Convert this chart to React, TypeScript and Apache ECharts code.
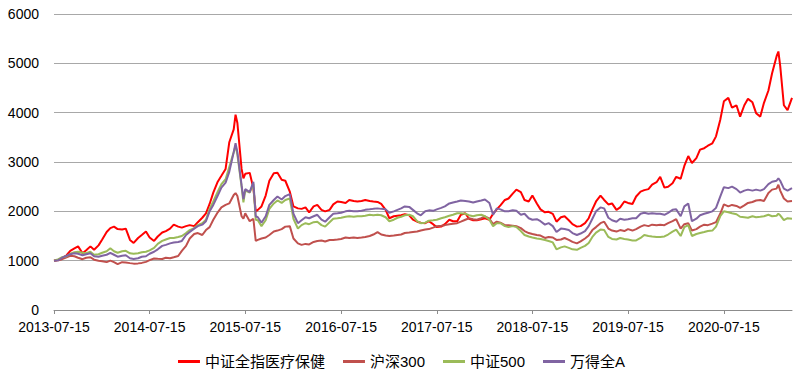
import React, { useEffect, useRef } from "react";
import * as echarts from "echarts";

const dates = [
  "2013-07-15","2013-08-01","2013-08-15","2013-09-01","2013-09-15","2013-10-01","2013-10-15","2013-11-01","2013-11-15","2013-12-01","2013-12-15",
  "2014-01-01","2014-01-15","2014-02-01","2014-02-15","2014-03-01","2014-03-15","2014-04-01","2014-04-15","2014-05-01","2014-05-15","2014-06-01","2014-06-15","2014-07-01","2014-07-15","2014-08-01","2014-08-15","2014-09-01","2014-09-15","2014-10-01","2014-10-15","2014-11-01","2014-11-15","2014-12-01","2014-12-15",
  "2015-01-01","2015-01-15","2015-02-01","2015-02-15","2015-03-01","2015-03-15","2015-04-01","2015-04-15","2015-05-01","2015-05-15","2015-06-01","2015-06-08","2015-06-15","2015-07-01","2015-07-08","2015-07-15","2015-08-01","2015-08-15","2015-08-24","2015-09-01","2015-09-15","2015-10-01","2015-10-15","2015-11-01","2015-11-15","2015-12-01","2015-12-15",
  "2016-01-01","2016-01-15","2016-02-01","2016-02-15","2016-03-01","2016-03-15","2016-04-01","2016-04-15","2016-05-01","2016-05-15","2016-06-01","2016-06-15","2016-07-01","2016-07-15","2016-08-01","2016-08-15","2016-09-01","2016-09-15","2016-10-01","2016-10-15","2016-11-01","2016-11-15","2016-12-01","2016-12-15",
  "2017-01-01","2017-01-15","2017-02-01","2017-02-15","2017-03-01","2017-03-15","2017-04-01","2017-04-15","2017-05-01","2017-05-15","2017-06-01","2017-06-15","2017-07-01","2017-07-15","2017-08-01","2017-08-15","2017-09-01","2017-09-15","2017-10-01","2017-10-15","2017-11-01","2017-11-15","2017-12-01","2017-12-15",
  "2018-01-01","2018-01-15","2018-02-01","2018-02-15","2018-03-01","2018-03-15","2018-04-01","2018-04-15","2018-05-01","2018-05-15","2018-06-01","2018-06-15","2018-07-01","2018-07-15","2018-08-01","2018-08-15","2018-09-01","2018-09-15","2018-10-01","2018-10-15","2018-11-01","2018-11-15","2018-12-01","2018-12-15",
  "2019-01-01","2019-01-15","2019-02-01","2019-02-15","2019-03-01","2019-03-15","2019-04-01","2019-04-15","2019-05-01","2019-05-15","2019-06-01","2019-06-15","2019-07-01","2019-07-15","2019-08-01","2019-08-15","2019-09-01","2019-09-15","2019-10-01","2019-10-15","2019-11-01","2019-11-15","2019-12-01","2019-12-15",
  "2020-01-01","2020-01-15","2020-02-01","2020-02-15","2020-03-01","2020-03-15","2020-04-01","2020-04-15","2020-05-01","2020-05-15","2020-06-01","2020-06-15","2020-07-01","2020-07-15","2020-08-01","2020-08-15","2020-09-01","2020-09-15","2020-10-01","2020-10-15","2020-11-01","2020-11-15","2020-12-01","2020-12-15",
  "2021-01-01","2021-01-15","2021-02-01","2021-02-08","2021-02-15","2021-03-01","2021-03-15","2021-04-01",
];

const tickLabels = ["2013-07-15","2014-07-15","2015-07-15","2016-07-15","2017-07-15","2018-07-15","2019-07-15","2020-07-15"];

const seriesNames = ["中证全指医疗保健", "沪深300", "中证500", "万得全A"];
const seriesColors = ["#FF0000", "#C0504D", "#9BBB59", "#8064A2"];

const healthcare = [
  1000,1020,1050,1110,1200,1250,1290,1150,1210,1290,1220,
  1310,1430,1580,1660,1690,1640,1630,1650,1420,1360,1460,1520,1590,1470,1400,1490,1570,1600,1650,1730,1690,1670,1700,1720,
  1700,1780,1870,1960,2150,2380,2600,2720,2860,3400,3660,3960,3790,2860,2670,2760,2780,2470,2000,2030,2100,2320,2620,2770,2780,2640,2620,
  2400,2100,2060,2050,2080,1980,2100,2130,2030,2000,2030,2140,2200,2190,2170,2230,2210,2200,2210,2230,2210,2200,2190,2150,
  2030,1860,1900,1910,1920,1940,1920,1830,1790,1770,1760,1800,1740,1680,1690,1740,1830,1800,1800,1930,1960,1850,1820,1820,
  1840,1860,1830,1950,2040,2120,2230,2260,2360,2440,2390,2230,2200,2320,2160,2040,1980,1990,1950,1790,1880,1900,1820,1740,
  1690,1700,1760,1860,2040,2200,2320,2230,2140,2160,2030,2080,2200,2170,2150,2300,2400,2430,2450,2540,2590,2700,2480,2500,
  2570,2700,2660,2920,3120,2980,3080,3250,3280,3330,3380,3520,3850,4230,4300,4100,4150,3920,4150,4280,4210,3990,3920,4200,
  4450,4800,5140,5240,4950,4150,4050,4300,
];

const csi300 = [
  1000,1010,1030,1070,1100,1090,1060,1030,1060,1070,1020,
  1000,990,970,1000,970,930,970,965,950,940,945,955,975,1010,1045,1040,1035,1060,1050,1070,1095,1200,1300,1450,
  1540,1560,1520,1620,1680,1830,1980,2080,2130,2160,2330,2370,2310,1900,1850,1960,1800,1850,1400,1420,1450,1470,1520,1590,1610,1640,1690,
  1700,1450,1350,1320,1340,1330,1380,1400,1410,1390,1420,1420,1430,1440,1470,1460,1470,1460,1470,1480,1500,1530,1580,1530,
  1510,1500,1510,1520,1530,1560,1570,1580,1590,1610,1630,1640,1670,1700,1710,1720,1740,1750,1760,1790,1830,1860,1840,1830,
  1860,1900,1850,1740,1790,1770,1720,1720,1710,1700,1660,1600,1560,1540,1520,1510,1460,1480,1470,1420,1430,1460,1420,1380,
  1350,1390,1450,1510,1620,1680,1760,1790,1650,1610,1590,1620,1600,1640,1610,1640,1690,1720,1700,1730,1720,1730,1720,1760,
  1800,1840,1650,1740,1760,1610,1640,1690,1730,1720,1750,1780,1950,2140,2100,2130,2110,2070,2120,2170,2190,2220,2230,2210,
  2370,2440,2460,2540,2420,2260,2200,2210,
];

const csi500 = [
  1000,1030,1070,1090,1140,1170,1180,1160,1150,1180,1120,
  1130,1160,1190,1250,1190,1160,1190,1200,1150,1140,1150,1170,1180,1210,1260,1340,1400,1430,1460,1460,1480,1500,1560,1620,
  1660,1720,1760,1830,2050,2200,2400,2550,2650,2900,3200,3330,3150,2500,2180,2420,2380,2560,1830,1820,1700,1820,2050,2160,2220,2170,2230,
  2260,1850,1650,1720,1760,1740,1780,1790,1720,1690,1780,1850,1860,1870,1890,1900,1890,1900,1900,1910,1930,1920,1930,1920,
  1880,1800,1830,1870,1890,1920,1930,1900,1800,1760,1770,1810,1820,1830,1860,1880,1910,1930,1960,1960,1950,1920,1900,1920,
  1930,1900,1830,1700,1760,1760,1700,1680,1700,1680,1600,1520,1490,1470,1450,1440,1420,1400,1370,1230,1270,1290,1260,1230,
  1220,1260,1300,1360,1480,1570,1630,1620,1480,1440,1430,1460,1440,1430,1410,1410,1460,1520,1500,1490,1480,1480,1490,1530,
  1590,1630,1500,1680,1720,1500,1540,1560,1580,1600,1610,1690,1900,2000,1980,1960,1940,1890,1880,1870,1900,1880,1890,1900,
  1930,1900,1910,1950,1920,1820,1860,1850,
];

const windA = [
  1000,1010,1060,1100,1130,1150,1140,1110,1130,1150,1090,
  1080,1100,1120,1160,1120,1080,1100,1110,1050,1035,1050,1080,1090,1140,1180,1230,1300,1320,1350,1370,1380,1400,1520,1580,
  1650,1700,1730,1800,2000,2130,2320,2480,2580,2800,3200,3380,3200,2530,2250,2450,2390,2600,1900,1880,1770,1900,2130,2230,2300,2240,2310,
  2350,1950,1760,1820,1880,1860,1900,1930,1830,1790,1880,1950,1960,1970,2000,2010,2000,2000,2010,2030,2040,2050,2060,2050,
  2040,1970,2000,2030,2060,2100,2090,2030,1960,1920,2000,2020,2010,2040,2070,2100,2160,2180,2200,2220,2210,2200,2180,2200,
  2220,2240,2170,1930,2060,2040,2000,2000,2020,2010,1930,1950,1860,1830,1840,1800,1730,1760,1700,1580,1650,1640,1620,1560,
  1520,1550,1600,1700,1850,2000,2080,2060,1870,1820,1790,1850,1830,1840,1860,1860,1950,1970,1950,1960,1950,1950,1930,1970,
  2030,2040,1900,2100,2160,1800,1850,1920,1950,1970,2000,2070,2300,2490,2470,2500,2450,2380,2420,2440,2420,2440,2420,2450,
  2550,2600,2620,2670,2620,2460,2420,2470,
];

const yMin = 0;
const yMax = 6000;
const yInterval = 1000;

const FONT = "'Liberation Sans', Arial, 'Noto Sans CJK SC', sans-serif";

const toTime = (s: string) => new Date(s + "T00:00:00Z").getTime();

export default function App() {
  const ref = useRef<HTMLDivElement>(null);

  useEffect(() => {
    document.body.style.margin = "0";
    if (!ref.current) return;
    const chart = echarts.init(ref.current, null, { renderer: "svg" });
    const tickValues = tickLabels.map(toTime);
    const allValues = [healthcare, csi300, csi500, windA];

    chart.setOption({
      animation: false,
      textStyle: { fontFamily: FONT },
      grid: { left: 54, right: 11, top: 14, bottom: 67 },
      legend: {
        top: 349,
        left: "center",
        icon: "rect",
        itemWidth: 22,
        itemHeight: 3,
        itemGap: 18,
        selectedMode: false,
        textStyle: { fontSize: 15, color: "#000", fontFamily: FONT },
        data: seriesNames,
      },
      xAxis: {
        type: "value",
        min: toTime(dates[0]),
        max: toTime(dates[dates.length - 1]),
        axisLine: { show: true, onZero: false, lineStyle: { color: "#8c8c8c", width: 1 } },
        axisTick: {
          show: true,
          length: 4,
          customValues: tickValues,
          lineStyle: { color: "#8c8c8c" },
        },
        axisLabel: {
          customValues: tickValues,
          fontSize: 14,
          color: "#000",
          margin: 10,
          fontFamily: FONT,
          formatter: (v: number) => {
            let best = 0;
            for (let i = 1; i < tickValues.length; i++) {
              if (Math.abs(tickValues[i] - v) < Math.abs(tickValues[best] - v)) best = i;
            }
            return tickLabels[best];
          },
        },
        splitLine: { show: false },
      },
      yAxis: {
        type: "value",
        min: yMin,
        max: yMax,
        interval: yInterval,
        axisLine: { show: false },
        axisTick: { show: false },
        axisLabel: {
          fontSize: 14,
          color: "#000",
          margin: 15,
          fontFamily: FONT,
          formatter: (v: number) => String(v),
        },
        splitLine: { lineStyle: { color: "#a8a8a8", width: 1 } },
      },
      series: seriesNames.map((name, k) => ({
        name,
        type: "line",
        data: dates.map((d, i) => [toTime(d), allValues[k][i]]),
        showSymbol: false,
        symbol: "none",
        silent: true,
        color: seriesColors[k],
        lineStyle: { color: seriesColors[k], width: 2 },
        emphasis: { disabled: true },
      })),
    });

    return () => chart.dispose();
  }, []);

  return <div ref={ref} style={{ width: 803, height: 377 }} />;
}
